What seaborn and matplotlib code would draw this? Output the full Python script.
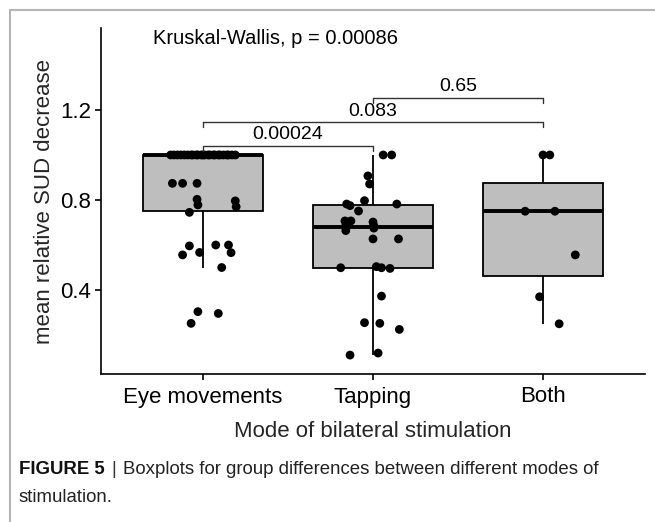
import numpy as np
import pandas as pd
import seaborn as sns
import matplotlib
matplotlib.use("Agg")
import matplotlib.pyplot as plt
from matplotlib.lines import Line2D

# ---------------- data ----------------
groups = ["Eye movements", "Tapping", "Both"]

eye_values = [1.0] * 24 + [0.874, 0.874, 0.874, 0.803, 0.778, 0.796, 0.77, 0.745,
                           0.596, 0.556, 0.567, 0.6, 0.6, 0.566, 0.5,
                           0.304, 0.296, 0.252]
eye_jitter = [-0.19, -0.17, -0.15, -0.13, -0.11, -0.09, -0.07, -0.06, -0.04, -0.03,
              -0.01, 0.0, 0.01, 0.03, 0.04, 0.06, 0.07, 0.09, 0.10, 0.12, 0.14,
              0.15, 0.17, 0.19,
              -0.18, -0.12, -0.035, -0.035, -0.03, 0.19, 0.195, -0.08,
              -0.08, -0.12, -0.02, 0.075, 0.15, 0.165, 0.11,
              -0.03, 0.09, -0.07]

tap_values = [1.0, 1.0, 0.907, 0.871, 0.797, 0.782, 0.775, 0.782, 0.751,
              0.707, 0.707, 0.702, 0.686, 0.685, 0.664, 0.675, 0.627, 0.627,
              0.499, 0.504, 0.499, 0.496,
              0.373, 0.255, 0.252, 0.225, 0.111, 0.12]
tap_jitter = [0.06, 0.11, -0.03, -0.02, -0.05, -0.155, -0.135, 0.14, -0.085,
              -0.165, -0.13, 0.0, -0.16, 0.005, -0.16, 0.005, 0.0, 0.15,
              -0.19, 0.02, 0.05, 0.10,
              0.05, -0.05, 0.04, 0.155, -0.135, 0.03]

both_values = [1.0, 1.0, 0.75, 0.75, 0.556, 0.37, 0.25]
both_jitter = [0.0, 0.04, -0.105, 0.07, 0.19, -0.02, 0.095]

kruskal_label = "Kruskal-Wallis, p = 0.00086"
comparisons = [("Eye movements", "Tapping", "0.00024"),
               ("Eye movements", "Both", "0.083"),
               ("Tapping", "Both", "0.65")]

# ---------------- build table ----------------
values_by_group = [eye_values, tap_values, both_values]
jitter_by_group = [eye_jitter, tap_jitter, both_jitter]
rows = []
for gi, (g, vals, jit) in enumerate(zip(groups, values_by_group, jitter_by_group)):
    for v, j in zip(vals, jit):
        rows.append({"group": g, "value": v, "xpos": gi + j})
df = pd.DataFrame(rows)

# ---------------- style ----------------
sns.set_theme(style="ticks")
plt.rcParams["font.family"] = ["Liberation Sans", "DejaVu Sans"]

W, H = 655, 522
fig = plt.figure(figsize=(W / 100, H / 100), dpi=100)
ax = fig.add_axes([101 / W, 1 - 374 / H, (645 - 101) / W, (374 - 28) / H])

sns.boxplot(data=df, x="group", y="value", order=groups, ax=ax,
            color="#bebebe", saturation=1, width=0.705, showfliers=False,
            showcaps=False, linecolor="black", linewidth=1.3,
            medianprops={"linewidth": 2.8, "color": "black"},
            whiskerprops={"linewidth": 1.3, "color": "black"},
            boxprops={"edgecolor": "black", "linewidth": 1.3})

sns.scatterplot(data=df, x="xpos", y="value", ax=ax, color="black",
                s=40, edgecolor="none", legend=False, zorder=5)

ax.set_xlim(-0.6, 2.6)
ax.set_ylim(0.027, 1.564)
ax.set_xticks(range(len(groups)))
ax.set_xticklabels(groups)
ax.set_yticks([0.4, 0.8, 1.2])
ax.set_yticklabels(["0.4", "0.8", "1.2"])

for side in ["top", "right"]:
    ax.spines[side].set_visible(False)
for side in ["left", "bottom"]:
    ax.spines[side].set_linewidth(1.2)
    ax.spines[side].set_color("black")
ax.tick_params(axis="both", length=4, width=1.2, color="black",
               labelsize=16, labelcolor="black", pad=3)
ax.tick_params(axis="x", pad=5)

ax.set_xlabel("Mode of bilateral stimulation", fontsize=16, labelpad=10)
ax.set_ylabel("mean relative SUD decrease", fontsize=16, labelpad=4)

# Kruskal-Wallis label
fig.text(153 / W, 1 - 39 / H, kruskal_label,
         fontsize=14.5, ha="left", va="center", color="black")

# comparison brackets
bracket_levels = [1.041, 1.145, 1.255]
tip = 0.022
for (g1, g2, lab), yb in zip(comparisons, bracket_levels):
    x1, x2 = groups.index(g1), groups.index(g2)
    ax.plot([x1, x1, x2, x2], [yb - tip, yb, yb, yb - tip],
            color="#333333", lw=1.0, clip_on=False, zorder=6)
    ax.text((x1 + x2) / 2, yb + 0.012, lab, ha="center", va="bottom",
            fontsize=14, color="black")

# figure frame (page border)
fig.add_artist(Line2D([10 / W, 10 / W], [0, 1 - 10 / H],
                      transform=fig.transFigure, color="#b5b5b5", lw=1.5))
fig.add_artist(Line2D([10 / W, 1], [1 - 10 / H, 1 - 10 / H],
                      transform=fig.transFigure, color="#b5b5b5", lw=1.5))

# caption
cap_fs = 13.4
cap_y1 = 1 - 470 / H
cap_y2 = 1 - 497 / H
t1 = fig.text(19 / W, cap_y1, "FIGURE 5", fontsize=cap_fs, fontweight="bold",
              ha="left", va="center", color="#111111")
fig.canvas.draw()
r = fig.canvas.get_renderer()
bb = t1.get_window_extent(renderer=r)
t2 = fig.text(bb.x1 / W + 7 / W, cap_y1, "|", fontsize=cap_fs, ha="left",
              va="center", color="#333333")
bb2 = t2.get_window_extent(renderer=r)
fig.text(bb2.x1 / W + 6 / W, cap_y1,
         "Boxplots for group differences between different modes of",
         fontsize=cap_fs, ha="left", va="center", color="#222222")
fig.text(19 / W, cap_y2, "stimulation.", fontsize=cap_fs, ha="left",
         va="center", color="#222222")

fig.savefig("out.png", dpi=100)
